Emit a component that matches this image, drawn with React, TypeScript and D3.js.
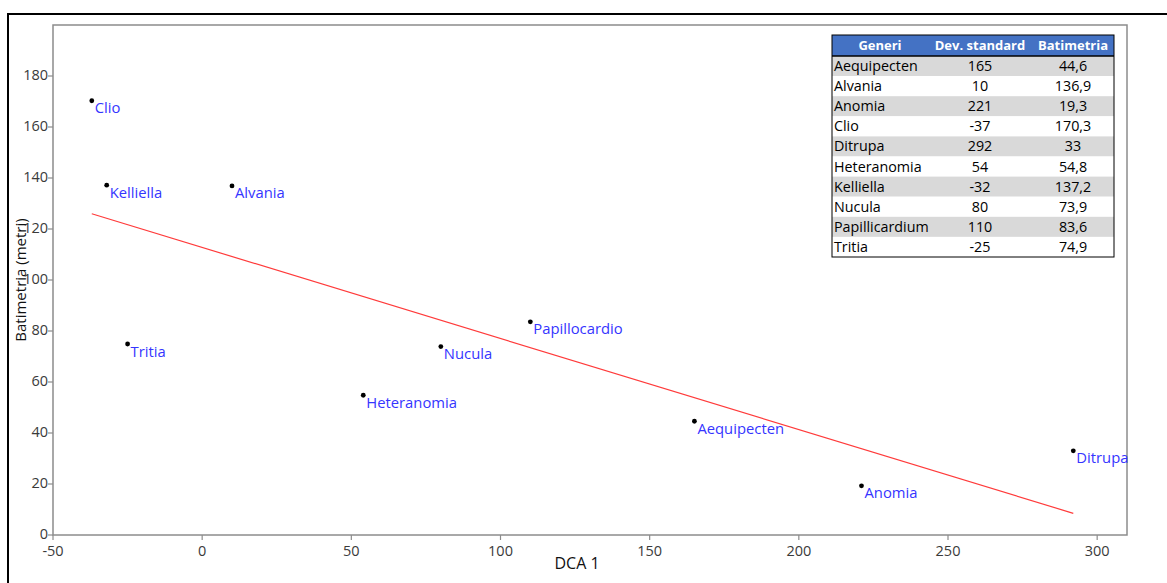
import React from "react";
import * as d3 from "d3";

// Generi e valori (DCA 1 vs batimetria)
const genera = ["Aequipecten", "Alvania", "Anomia", "Clio", "Ditrupa", "Heteranomia", "Kelliella", "Nucula", "Papillicardium", "Tritia"];
const pointLabels = ["Aequipecten", "Alvania", "Anomia", "Clio", "Ditrupa", "Heteranomia", "Kelliella", "Nucula", "Papillocardio", "Tritia"];
const dca1 = [165, 10, 221, -37, 292, 54, -32, 80, 110, -25];
const depth = [44.6, 136.9, 19.3, 170.3, 33, 54.8, 137.2, 73.9, 83.6, 74.9];
const depthText = ["44,6", "136,9", "19,3", "170,3", "33", "54,8", "137,2", "73,9", "83,6", "74,9"];
const xTicks = [-50, 0, 50, 100, 150, 200, 250, 300];
const yTicks = [0, 20, 40, 60, 80, 100, 120, 140, 160, 180];
const tableHeaders = ["Generi", "Dev. standard", "Batimetria"];

const W = 1167;
const H = 583;
const plot = { left: 53, top: 25, right: 1127, bottom: 535 };
const FONT = "'Open Sans', 'Noto Sans', sans-serif";

export default function App() {
  const x = d3.scaleLinear().domain([-50, 310]).range([plot.left, plot.right]);
  const y = d3.scaleLinear().domain([0, 200]).range([plot.bottom, plot.top]);

  // least-squares fit
  const mx = d3.mean(dca1)!;
  const my = d3.mean(depth)!;
  let sxy = 0;
  let sxx = 0;
  dca1.forEach((v, i) => {
    sxy += (v - mx) * (depth[i] - my);
    sxx += (v - mx) * (v - mx);
  });
  const slope = sxy / sxx;
  const intercept = my - slope * mx;
  const [xMin, xMax] = d3.extent(dca1) as [number, number];
  const fitLine = d3
    .line<number>()
    .x((d) => x(d))
    .y((d) => y(intercept + slope * d))([xMin, xMax]);

  // table geometry
  const tX = 832;
  const tY = 35;
  const colEdges = [832, 928, 1032, 1114];
  const headerH = 21;
  const rowH = 20.1;
  const valueCenters = [0, 980, 1073];

  const axisColor = "#8c8c8c";
  const tickText = "#3a3a3a";

  return (
    <svg width={W} height={H} style={{ position: "absolute", left: 0, top: 0, background: "#fff" }} fontFamily={FONT}>
      {/* outer frame */}
      <rect x={8} y={14} width={W + 20} height={H + 20} fill="none" stroke="#000" strokeWidth={2} />

      {/* plot frame */}
      <rect x={plot.left} y={plot.top} width={plot.right - plot.left} height={plot.bottom - plot.top} fill="none" stroke={axisColor} strokeWidth={1.5} />

      {/* x ticks */}
      {xTicks.map((t) => (
        <g key={"x" + t}>
          <line x1={x(t)} x2={x(t)} y1={plot.bottom} y2={plot.bottom + 5} stroke={axisColor} strokeWidth={1.2} />
          <text x={x(t)} y={plot.bottom + 21} textAnchor="middle" fontSize={14.5} fill={tickText}>
            {t}
          </text>
        </g>
      ))}

      {/* y ticks */}
      {yTicks.map((t) => (
        <g key={"y" + t}>
          <line x1={plot.left - 5} x2={plot.left} y1={y(t)} y2={y(t)} stroke={axisColor} strokeWidth={1.2} />
          <text x={plot.left - 5} y={y(t) - 1.5} dy="0.35em" textAnchor="end" fontSize={14.5} fill={tickText}>
            {t}
          </text>
        </g>
      ))}

      {/* axis titles */}
      <text x={577} y={569} textAnchor="middle" fontSize={16} fill="#111">
        DCA 1
      </text>
      <text transform="translate(26,280) rotate(-90)" textAnchor="middle" fontSize={15} fill="#111">
        Batimetria (metri)
      </text>

      {/* regression line */}
      <path d={fitLine!} fill="none" stroke="#ff3b3b" strokeWidth={1.2} />

      {/* points and labels */}
      {dca1.map((v, i) => (
        <g key={"p" + i}>
          <circle cx={x(v)} cy={y(depth[i])} r={2.4} fill="#000" />
          <text x={x(v) + 3} y={y(depth[i]) + 12.5} fontSize={14.8} fill="#3535ff">
            {pointLabels[i]}
          </text>
        </g>
      ))}

      {/* data table */}
      <g fontSize={14.3}>
        <rect x={tX} y={tY} width={colEdges[3] - tX} height={headerH} fill="#4472c4" />
        {tableHeaders.map((h, j) => (
          <text
            key={"h" + j}
            x={(colEdges[j] + colEdges[j + 1]) / 2}
            y={tY + headerH / 2}
            dy="0.35em"
            textAnchor="middle"
            fill="#fff"
            fontWeight="bold"
            fontSize={13}
          >
            {h}
          </text>
        ))}
        {genera.map((g, i) => {
          const ry = tY + headerH + i * rowH;
          return (
            <g key={"r" + i}>
              <rect x={tX} y={ry} width={colEdges[3] - tX} height={rowH} fill={i % 2 === 0 ? "#d9d9d9" : "#fff"} />
              <text x={tX + 2} y={ry + rowH / 2} dy="0.35em" fill="#000">
                {g}
              </text>
              <text x={valueCenters[1]} y={ry + rowH / 2} dy="0.35em" textAnchor="middle" fill="#000">
                {dca1[i]}
              </text>
              <text x={valueCenters[2]} y={ry + rowH / 2} dy="0.35em" textAnchor="middle" fill="#000">
                {depthText[i]}
              </text>
            </g>
          );
        })}
        <line x1={tX} x2={colEdges[3]} y1={tY + headerH} y2={tY + headerH} stroke="#000" strokeWidth={1.5} />
        <rect x={tX} y={tY} width={colEdges[3] - tX} height={headerH + rowH * genera.length} fill="none" stroke="#000" strokeWidth={1} />
      </g>
    </svg>
  );
}
